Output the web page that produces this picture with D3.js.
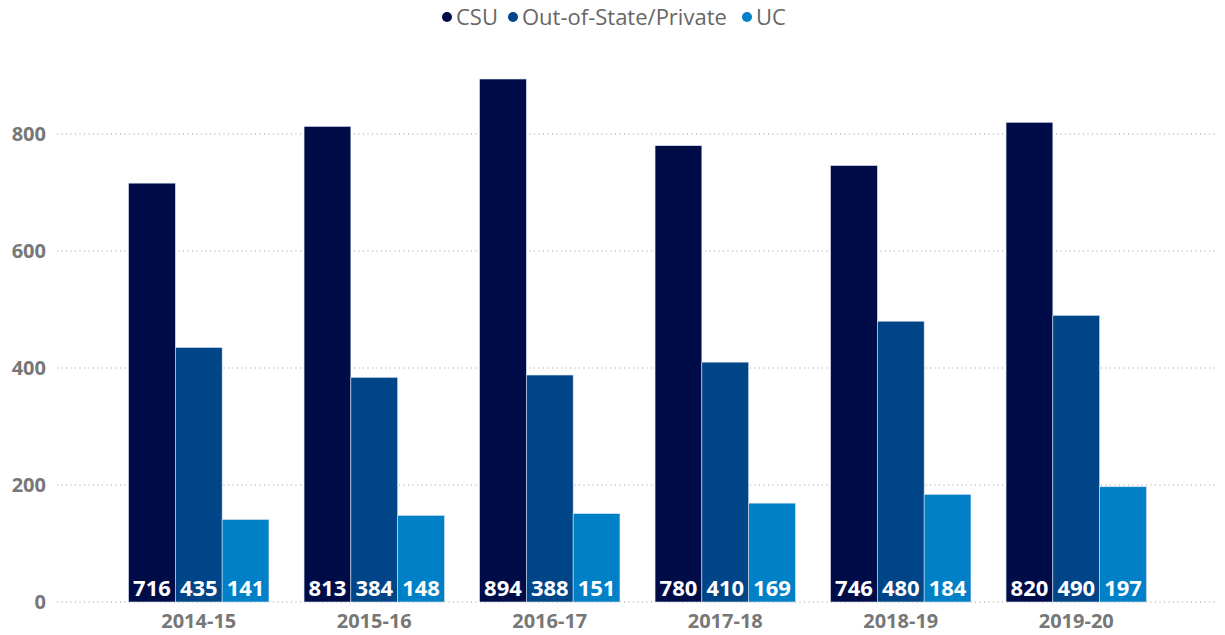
<!DOCTYPE html>
<html><head><meta charset="utf-8">
<script src="https://cdn.jsdelivr.net/npm/d3@7"></script>
<style>body{margin:0;background:#fff}svg{display:block;font-family:"Open Sans","Noto Sans",sans-serif}</style>
</head><body><svg id="c" width="1225" height="635"></svg>
<script>
const years = ["2014-15","2015-16","2016-17","2017-18","2018-19","2019-20"];
const seriesNames = ["CSU","Out-of-State/Private","UC"];
const csu = [716,813,894,780,746,820];
const outState = [435,384,388,410,480,490];
const uc = [141,148,151,169,184,197];
const yTicks = [0,200,400,600,800];
const colors = ["#000c48","#004587","#0080c7"];

const svg = d3.select("#c");
const values = [csu, outState, uc];
const x = d3.scaleBand().domain(years).range([111,1164]).paddingInner(0.2).paddingOuter(0.1);
const xs = d3.scaleBand().domain(seriesNames).range([0, x.bandwidth()]);
const y = d3.scaleLinear().domain([0,800]).range([602,134]);

// gridlines
svg.append("g").selectAll("line").data(yTicks).join("line")
  .attr("x1",57).attr("x2",1218).attr("y1",d=>y(d)).attr("y2",d=>y(d))
  .attr("stroke","#999").attr("stroke-width",1).attr("stroke-dasharray","1,3.5");

// y labels
svg.append("g").selectAll("text").data(yTicks).join("text")
  .attr("x",46).attr("y",d=>y(d)).attr("dy","0.36em").attr("text-anchor","end")
  .attr("fill","#777").attr("font-size",20).attr("font-weight","bold").text(d=>d);

const data = [];
years.forEach((yr,i)=>seriesNames.forEach((s,j)=>data.push({yr,s,j,v:values[j][i]})));

svg.append("g").selectAll("rect").data(data).join("rect")
  .attr("x",d=>x(d.yr)+xs(d.s)).attr("width",xs.bandwidth())
  .attr("y",d=>y(d.v)).attr("height",d=>y(0)-y(d.v))
  .attr("fill",d=>colors[d.j]).attr("stroke","#d9e2ef").attr("stroke-width",0.6);

svg.append("g").selectAll("text").data(data).join("text")
  .attr("x",d=>x(d.yr)+xs(d.s)+xs.bandwidth()/2).attr("y",596)
  .attr("text-anchor","middle").attr("fill","#fff").attr("font-size",22).attr("font-weight","bold")
  .text(d=>d.v);

// x labels
svg.append("g").selectAll("text").data(years).join("text")
  .attr("x",d=>x(d)+x.bandwidth()/2).attr("y",628).attr("text-anchor","middle")
  .attr("fill","#777").attr("font-size",20).attr("font-weight","bold").text(d=>d);

// legend
const lx = [447, 513, 747];
const lg = svg.append("g").selectAll("g").data(seriesNames).join("g")
  .attr("transform",(d,i)=>`translate(${lx[i]},17)`);
lg.append("circle").attr("r",5).attr("fill",(d,i)=>colors[i]);
lg.append("text").attr("x",9).attr("dy","0.36em").attr("fill","#666").attr("font-size",22).text(d=>d);
</script></body></html>
